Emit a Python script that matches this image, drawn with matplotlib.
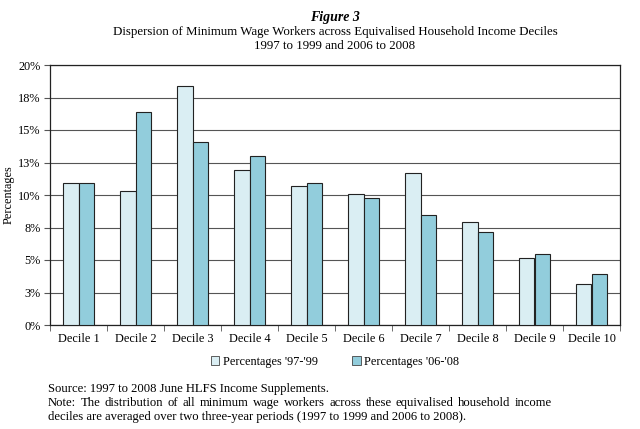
import matplotlib.pyplot as plt
from matplotlib.patches import Patch

deciles = ["Decile %d" % i for i in range(1, 11)]
pct_97_99 = [10.9, 10.3, 18.4, 11.9, 10.7, 10.1, 11.7, 7.9, 5.15, 3.15]
pct_06_08 = [10.9, 16.4, 14.05, 13.0, 10.9, 9.8, 8.45, 7.15, 5.5, 3.9]
yticks = [0, 2.5, 5, 7.5, 10, 12.5, 15, 17.5, 20]
ytick_labels = ["0%", "3%", "5%", "8%", "10%", "13%", "15%", "18%", "20%"]

light = "#DAEEF3"
dark = "#92CDDC"

plt.rcParams['font.family'] = ['Liberation Serif', 'DejaVu Serif']

fig = plt.figure(figsize=(6.4, 4.29), dpi=100)
ax = fig.add_axes([50/640, 1 - 325/429, 570/640, 260/429])

x = list(range(len(deciles)))
w = 0.28
ax.bar([i - w/2 for i in x], pct_97_99, width=w, color=light, edgecolor="#222222", linewidth=0.8, zorder=3)
ax.bar([i + w/2 for i in x], pct_06_08, width=w, color=dark, edgecolor="#222222", linewidth=0.8, zorder=3)

ax.set_xlim(-0.5, 9.5)
ax.set_ylim(0, 20)
ax.set_yticks(yticks)
ax.set_yticklabels(ytick_labels, fontsize=8.8)
ax.yaxis.grid(True, color="#555555", linewidth=0.8, zorder=0)
ax.set_xticks(x)
ax.set_xticklabels(deciles, fontsize=8.8)
ax.tick_params(axis="x", length=0, pad=6)
ax.set_xticks([i + 0.5 for i in range(-1, 10)], minor=True)
ax.tick_params(axis="x", which="minor", length=4, color="#555555")
ax.tick_params(axis="y", length=4, color="#555555", pad=3)
for s in ax.spines.values():
    s.set_color("#222222")
    s.set_linewidth(0.9)
ax.set_ylabel("Percentages", fontsize=8.8, va="center")
ax.yaxis.set_label_coords(-41/570, 0.5)

cx = 335/640
fig.text(cx, 1 - 17/429, "Figure 3", ha="center", va="center", fontsize=10, fontweight="bold", fontstyle="italic")
fig.text(cx, 1 - 32/429, "Dispersion of Minimum Wage Workers across Equivalised Household Income Deciles",
         ha="center", va="center", fontsize=9.3)
fig.text(cx, 1 - 46/429, "1997 to 1999 and 2006 to 2008", ha="center", va="center", fontsize=9.3)

handles = [Patch(facecolor=light, edgecolor="#444444", linewidth=0.6),
           Patch(facecolor=dark, edgecolor="#444444", linewidth=0.6)]
fig.legend(handles, ["Percentages '97-'99", "Percentages '06-'08"], loc="center",
           bbox_to_anchor=(cx, 1 - 362/429), ncol=2, frameon=False, fontsize=8.8,
           handlelength=0.7, handleheight=0.7, handletextpad=0.3, columnspacing=2.8)

# footnotes; middle line is justified between x=48 and x=552
fs = 9.1
left, right = 48, 552
fig.text(left/640, 1 - 389/429, "Source: 1997 to 2008 June HLFS Income Supplements.",
         ha="left", va="center", fontsize=fs)
fig.text(left/640, 1 - 417/429,
         "deciles are averaged over two three-year periods (1997 to 1999 and 2006 to 2008).",
         ha="left", va="center", fontsize=fs)

words = "Note: The distribution of all minimum wage workers across these equivalised household income".split()
renderer = fig.canvas.get_renderer()
word_texts = [fig.text(0, 1 - 403/429, wd, ha="left", va="center", fontsize=fs) for wd in words]
widths = [t.get_window_extent(renderer).width for t in word_texts]
gap = (right - left - sum(widths)) / (len(words) - 1)
pos = left
for t, wdt in zip(word_texts, widths):
    t.set_x(pos/640)
    pos += wdt + gap

fig.savefig("out.png", dpi=100)
